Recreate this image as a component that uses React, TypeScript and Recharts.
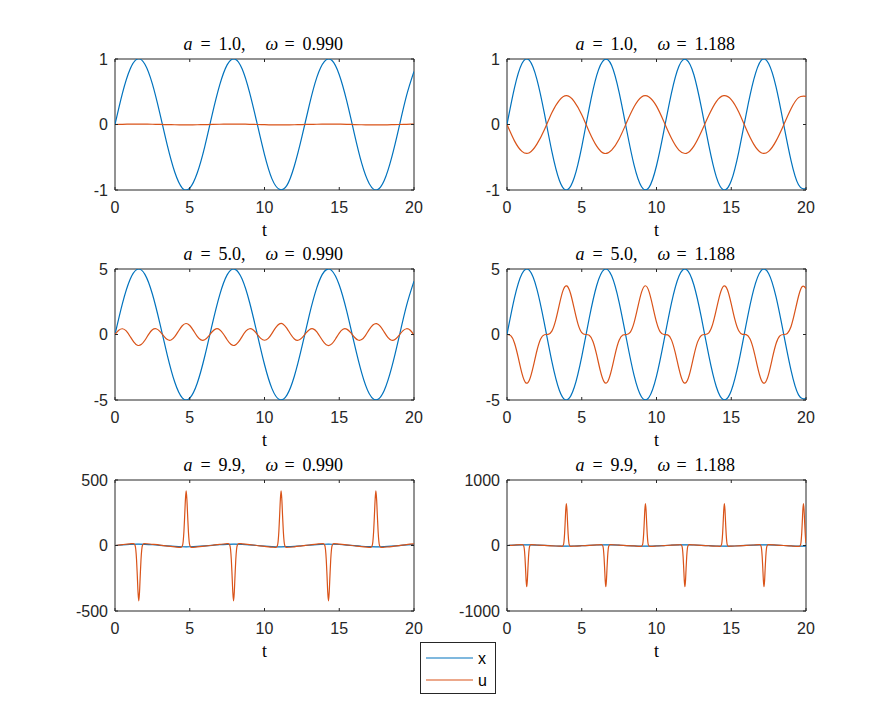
import React from 'react'
import { LineChart, Line, XAxis, YAxis, ReferenceArea } from 'recharts'

const BLUE = '#0072BD'
const ORANGE = '#D95319'
const AXIS = '#262626'

// time grids
const T_HALF = [0,0.5,1,1.5,2,2.5,3,3.5,4,4.5,5,5.5,6,6.5,7,7.5,8,8.5,9,9.5,10,10.5,11,11.5,12,12.5,13,13.5,14,14.5,15,15.5,16,16.5,17,17.5,18,18.5,19,19.5,20]
const T_QUARTER = [0,0.25,0.5,0.75,1,1.25,1.5,1.75,2,2.25,2.5,2.75,3,3.25,3.5,3.75,4,4.25,4.5,4.75,5,5.25,5.5,5.75,6,6.25,6.5,6.75,7,7.25,7.5,7.75,8,8.25,8.5,8.75,9,9.25,9.5,9.75,10,10.25,10.5,10.75,11,11.25,11.5,11.75,12,12.25,12.5,12.75,13,13.25,13.5,13.75,14,14.25,14.5,14.75,15,15.25,15.5,15.75,16,16.25,16.5,16.75,17,17.25,17.5,17.75,18,18.25,18.5,18.75,19,19.25,19.5,19.75,20]

// a = 1.0, w = 0.990
const X_A1_W099 = [0,0.48,0.84,1.0,0.92,0.62,0.17,-0.32,-0.73,-0.97,-0.97,-0.74,-0.34,0.15,0.6,0.91,1.0,0.85,0.49,0.02,-0.46,-0.83,-0.99,-0.93,-0.63,-0.19,0.3,0.72,0.96,0.98,0.76,0.36,-0.13,-0.59,-0.9,-1.0,-0.86,-0.51,-0.04,0.44,0.81]
const U_A1_W099 = [0,0.003,0.005,0.006,0.006,0.004,0.001,-0.002,-0.004,-0.006,-0.006,-0.004,-0.002,0.001,0.004,0.005,0.006,0.005,0.003,0,-0.003,-0.005,-0.006,-0.006,-0.004,-0.001,0.002,0.004,0.006,0.006,0.005,0.002,-0.001,-0.004,-0.005,-0.006,-0.005,-0.003,0,0.003,0.005]

// a = 1.0, w = 1.188
const X_A1_W1188 = [0,0.56,0.93,0.98,0.69,0.17,-0.41,-0.85,-1.0,-0.81,-0.34,0.25,0.75,0.99,0.9,0.49,-0.08,-0.62,-0.95,-0.96,-0.63,-0.09,0.48,0.89,0.99,0.76,0.26,-0.32,-0.8,-1.0,-0.86,-0.42,0.16,0.68,0.98,0.93,0.57,0.01,-0.55,-0.92,-0.98]
const U_A1_W1188 = [0,-0.25,-0.41,-0.43,-0.3,-0.08,0.18,0.37,0.44,0.35,0.15,-0.11,-0.33,-0.44,-0.39,-0.22,0.03,0.27,0.42,0.42,0.28,0.04,-0.21,-0.39,-0.44,-0.33,-0.11,0.14,0.35,0.44,0.38,0.19,-0.07,-0.3,-0.43,-0.41,-0.25,-0.01,0.24,0.41,0.43]

// a = 5.0, w = 0.990
const X_A5_W099 = [0,2.38,4.18,4.98,4.59,3.09,0.85,-1.59,-3.65,-4.84,-4.86,-3.72,-1.68,0.76,3.01,4.55,4.99,4.23,2.46,0.1,-2.29,-4.13,-4.97,-4.63,-3.17,-0.95,1.5,3.58,4.81,4.88,3.78,1.78,-0.66,-2.93,-4.51,-4.99,-4.29,-2.55,-0.2,2.2,4.07]
const U_A5_W099 = [
  0,0.32,0.44,0.27,-0.13,-0.56,-0.82,-0.77,-0.44,0.01,
  0.36,0.44,0.24,-0.11,-0.39,-0.42,-0.17,0.27,0.67,0.84,
  0.69,0.3,-0.14,-0.41,-0.4,-0.14,0.21,0.43,0.37,0.04,
  -0.4,-0.75,-0.83,-0.59,-0.16,0.25,0.44,0.34,0.03,-0.3,
  -0.44,-0.3,0.09,0.53,0.81,0.79,0.47,0.02,-0.34,-0.44,
  -0.26,0.08,0.37,0.43,0.2,-0.23,-0.64,-0.84,-0.72,-0.34,
  0.11,0.4,0.41,0.16,-0.19,-0.42,-0.39,-0.08,0.37,0.73,
  0.83,0.62,0.2,-0.22,-0.44,-0.36,-0.06,0.28,0.44,0.32,
  -0.05,
]

// a = 5.0, w = 1.188
const X_A5_W1188 = [0,2.8,4.64,4.89,3.47,0.85,-2.05,-4.25,-5.0,-4.03,-1.68,1.24,3.74,4.96,4.48,2.46,-0.4,-3.12,-4.77,-4.79,-3.17,-0.46,2.4,4.45,4.97,3.78,1.3,-1.62,-3.99,-4.99,-4.29,-2.11,0.79,3.42,4.88,4.66,2.85,0.07,-2.74,-4.61,-4.9]
const U_A5_W1188 = [
  0,-0.09,-0.65,-1.75,-2.97,-3.68,-3.48,-2.48,-1.24,-0.34,
  -0.02,0.01,0.26,1.06,2.28,3.37,3.71,3.13,1.95,0.79,
  0.14,0,-0.06,-0.53,-1.56,-2.8,-3.62,-3.57,-2.67,-1.42,
  -0.44,-0.04,0,0.18,0.9,2.09,3.23,3.72,3.27,2.15,
  0.95,0.2,0,-0.03,-0.41,-1.37,-2.61,-3.55,-3.64,-2.85,
  -1.61,-0.56,-0.07,0,0.13,0.75,1.89,3.08,3.7,3.4,
  2.34,1.11,0.28,0.01,-0.01,-0.32,-1.19,-2.43,-3.45,-3.69,
  -3.02,-1.81,-0.69,-0.11,0,0.08,0.61,1.7,2.92,3.66,
  3.51,
]

// a = 9.9, w = 0.990
const X_A99_W099 = [0,4.7,8.28,9.86,9.08,6.12,1.69,-3.15,-7.23,-9.58,-9.62,-7.36,-3.33,1.5,5.97,9.0,9.88,8.38,4.87,0.2,-4.53,-8.17,-9.84,-9.16,-6.27,-1.88,2.96,7.09,9.52,9.67,7.49,3.52,-1.3,-5.81,-8.92,-9.89,-8.49,-5.05,-0.39,4.35,8.06]
const U_A99_W099: number[][] = [
  [0,0],[0.5,7],[1.0,13],[1.24,15],[1.34,2],[1.39,-31],[1.44,-107],[1.49,-226],[1.54,-355],[1.59,-422],
  [1.64,-355],[1.69,-226],[1.74,-107],[1.79,-31],[1.84,2],[1.94,15],[2.5,9],[3.0,3],[3.5,-5],[4.0,-11],
  [4.41,-15],[4.51,-2],[4.56,31],[4.61,107],[4.66,225],[4.71,350],[4.76,418],[4.81,350],[4.86,225],[4.91,107],
  [4.96,31],[5.01,-2],[5.11,-15],[5.5,-11],[6.0,-5],[6.5,2],[7.0,9],[7.5,14],[7.58,15],[7.68,2],
  [7.73,-31],[7.78,-107],[7.83,-226],[7.88,-355],[7.93,-422],[7.98,-355],[8.03,-226],[8.08,-107],[8.13,-31],[8.18,2],
  [8.28,15],[8.5,13],[9.0,7],[9.5,0],[10.0,-7],[10.5,-12],[10.76,-15],[10.86,-2],[10.91,31],[10.96,107],
  [11.01,225],[11.06,350],[11.11,418],[11.16,350],[11.21,225],[11.26,107],[11.31,31],[11.36,-2],[11.46,-15],[12.0,-10],
  [12.5,-3],[13.0,4],[13.5,11],[13.93,15],[14.03,2],[14.08,-31],[14.13,-107],[14.18,-226],[14.23,-355],[14.28,-422],
  [14.33,-355],[14.38,-226],[14.43,-107],[14.48,-31],[14.53,2],[14.63,15],[15.0,11],[15.5,5],[16.0,-2],[16.5,-9],
  [17.0,-14],[17.1,-15],[17.2,-2],[17.25,31],[17.3,107],[17.35,225],[17.4,350],[17.45,418],[17.5,350],[17.55,225],
  [17.6,107],[17.65,31],[17.7,-2],[17.8,-15],[18.0,-13],[18.5,-8],[19.0,-1],[19.5,7],[20.0,12],
]

// a = 9.9, w = 1.188
const X_A99_W1188 = [0,5.54,9.18,9.68,6.86,1.69,-4.06,-8.42,-9.89,-7.98,-3.33,2.46,7.4,9.81,8.86,4.87,-0.78,-6.17,-9.45,-9.49,-6.27,-0.91,4.76,8.8,9.83,7.49,2.58,-3.21,-7.9,-9.89,-8.49,-4.18,1.56,6.77,9.65,9.23,5.65,0.13,-5.43,-9.13,-9.71]
const U_A99_W1188: number[][] = [
  [0,0],[0.5,7],[1.04,12],[1.12,-7],[1.16,-57],[1.2,-171],[1.24,-347],[1.28,-536],[1.32,-630],[1.36,-536],
  [1.4,-347],[1.44,-171],[1.48,-57],[1.52,-7],[1.6,12],[2.0,8],[2.5,2],[3.0,-5],[3.5,-10],[3.69,-12],
  [3.77,7],[3.81,58],[3.85,174],[3.89,353],[3.93,545],[3.97,640],[4.01,545],[4.05,353],[4.09,174],[4.13,58],
  [4.17,7],[4.25,-12],[4.5,-10],[5.0,-4],[5.5,3],[6.0,9],[6.33,12],[6.41,-7],[6.45,-57],[6.49,-171],
  [6.53,-347],[6.57,-536],[6.61,-630],[6.65,-536],[6.69,-347],[6.73,-171],[6.77,-57],[6.81,-7],[6.89,12],[7.5,6],
  [8.0,-1],[8.5,-7],[8.98,-12],[9.06,7],[9.1,58],[9.14,174],[9.18,353],[9.22,545],[9.26,640],[9.3,545],
  [9.34,353],[9.38,174],[9.42,58],[9.46,7],[9.54,-12],[10.0,-8],[10.5,-1],[11.0,6],[11.5,11],[11.62,12],
  [11.7,-7],[11.74,-57],[11.78,-171],[11.82,-347],[11.86,-536],[11.9,-630],[11.94,-536],[11.98,-347],[12.02,-171],[12.06,-57],
  [12.1,-7],[12.18,12],[12.5,9],[13.0,3],[13.5,-4],[14.0,-10],[14.26,-12],[14.34,7],[14.38,58],[14.42,174],
  [14.46,353],[14.5,545],[14.54,640],[14.58,545],[14.62,353],[14.66,174],[14.7,58],[14.74,7],[14.82,-12],[15.0,-10],
  [15.5,-5],[16.0,2],[16.5,8],[16.91,12],[16.99,-7],[17.03,-57],[17.07,-171],[17.11,-347],[17.15,-536],[17.19,-630],
  [17.23,-536],[17.27,-347],[17.31,-171],[17.35,-57],[17.39,-7],[17.47,12],[18.0,7],[18.5,0],[19.0,-7],[19.55,-12],
  [19.63,7],[19.67,58],[19.71,174],[19.75,353],[19.79,545],[19.83,640],[19.87,545],[19.91,353],[19.95,174],[19.99,58],
  [20.0,40],
]

const X_TICKS = [0, 5, 10, 15, 20]
const Y_TICKS_1 = [-1, 0, 1]
const Y_TICKS_5 = [-5, 0, 5]
const Y_TICKS_500 = [-500, 0, 500]
const Y_TICKS_1000 = [-1000, 0, 1000]

const A_LABELS = ['1.0', '1.0', '5.0', '5.0', '9.9', '9.9']
const W_LABELS = ['0.990', '1.188', '0.990', '1.188', '0.990', '1.188']
const LEGEND_LABELS = ['x', 'u']

type Pt = { t: number; v: number }
const zip = (ts: number[], vs: number[]): Pt[] => ts.map((t, i) => ({ t, v: vs[i] }))
const fromPairs = (pairs: number[][]): Pt[] => pairs.map(([t, v]) => ({ t, v }))

// plot geometry (px)
const PLOT_W = 299
const PLOT_H = 131
const PAD_L = 60
const PAD_R = 10
const PAD_T = 10
const PAD_B = 50
const TICK = 3
const COLS = [115, 507]
const ROWS = [59, 269, 480]
const TICK_FONT = 16

const SANS = "'Liberation Sans', Arial, Helvetica, sans-serif"
const SERIF = "'Liberation Serif', 'Times New Roman', serif"

const panels = [
  { col: 0, row: 0, yTicks: Y_TICKS_1, x: zip(T_HALF, X_A1_W099), u: zip(T_HALF, U_A1_W099), uCurve: 'natural' },
  { col: 1, row: 0, yTicks: Y_TICKS_1, x: zip(T_HALF, X_A1_W1188), u: zip(T_HALF, U_A1_W1188), uCurve: 'natural' },
  { col: 0, row: 1, yTicks: Y_TICKS_5, x: zip(T_HALF, X_A5_W099), u: zip(T_QUARTER, U_A5_W099), uCurve: 'natural' },
  { col: 1, row: 1, yTicks: Y_TICKS_5, x: zip(T_HALF, X_A5_W1188), u: zip(T_QUARTER, U_A5_W1188), uCurve: 'natural' },
  { col: 0, row: 2, yTicks: Y_TICKS_500, x: zip(T_HALF, X_A99_W099), u: fromPairs(U_A99_W099), uCurve: 'monotone' },
  { col: 1, row: 2, yTicks: Y_TICKS_1000, x: zip(T_HALF, X_A99_W1188), u: fromPairs(U_A99_W1188), uCurve: 'monotone' },
]

function XTick(props: any) {
  const { x, payload } = props
  const bottom = PAD_T + PLOT_H
  return (
    <g>
      <line x1={x} x2={x} y1={bottom} y2={bottom - TICK} stroke={AXIS} strokeWidth={1} />
      <line x1={x} x2={x} y1={PAD_T} y2={PAD_T + TICK} stroke={AXIS} strokeWidth={1} />
      <text x={x} y={bottom + 23} textAnchor="middle" fontFamily={SANS} fontSize={TICK_FONT} fill={AXIS}>
        {String(payload.value)}
      </text>
    </g>
  )
}

function YTick(props: any) {
  const { y, payload } = props
  return (
    <g>
      <line x1={PAD_L} x2={PAD_L + TICK} y1={y} y2={y} stroke={AXIS} strokeWidth={1} />
      <line x1={PAD_L + PLOT_W} x2={PAD_L + PLOT_W - TICK} y1={y} y2={y} stroke={AXIS} strokeWidth={1} />
      <text x={PAD_L - 7} y={y + 5.7} textAnchor="end" fontFamily={SANS} fontSize={TICK_FONT} fill={AXIS}>
        {String(payload.value)}
      </text>
    </g>
  )
}

function Panel({ p }: { p: (typeof panels)[number] }) {
  const left = COLS[p.col]
  const top = ROWS[p.row]
  const yMin = p.yTicks[0]
  const yMax = p.yTicks[p.yTicks.length - 1]
  return (
    <div style={{ position: 'absolute', left: left - PAD_L, top: top - PAD_T }}>
      <LineChart
        width={PAD_L + PLOT_W + PAD_R}
        height={PAD_T + PLOT_H + PAD_B}
        margin={{ top: PAD_T, right: PAD_R, left: 0, bottom: 0 }}
      >
        <XAxis
          type="number"
          dataKey="t"
          domain={[0, 20]}
          ticks={X_TICKS}
          interval={0}
          axisLine={false}
          tickLine={false}
          tick={XTick}
          height={PAD_B}
          allowDataOverflow
        />
        <YAxis
          type="number"
          domain={[yMin, yMax]}
          ticks={p.yTicks}
          interval={0}
          axisLine={false}
          tickLine={false}
          tick={YTick}
          width={PAD_L}
          allowDataOverflow
        />
        <Line
          data={p.x}
          dataKey="v"
          type="natural"
          stroke={BLUE}
          strokeWidth={1.2}
          dot={false}
          activeDot={false}
          isAnimationActive={false}
        />
        <Line
          data={p.u}
          dataKey="v"
          type={p.uCurve as any}
          stroke={ORANGE}
          strokeWidth={1.2}
          dot={false}
          activeDot={false}
          isAnimationActive={false}
        />
        <ReferenceArea x1={0} x2={20} y1={yMin} y2={yMax} fill="none" stroke={AXIS} strokeWidth={1} />
      </LineChart>
    </div>
  )
}

// title laid out like TeX math: a = 1.0, \quad \omega = 0.990
function Title({ cx, y, a, w }: { cx: number; y: number; a: string; w: string }) {
  const x0 = cx - 81
  return (
    <text y={y} fontFamily={SERIF} fontSize={18} fill="#000">
      <tspan x={x0} fontStyle="italic">a</tspan>
      <tspan x={x0 + 17}>=</tspan>
      <tspan x={x0 + 35}>{a},</tspan>
      <tspan x={x0 + 82} fontStyle="italic">ω</tspan>
      <tspan x={x0 + 101}>=</tspan>
      <tspan x={x0 + 119}>{w}</tspan>
    </text>
  )
}

export default function App() {
  return (
    <div style={{ position: 'absolute', left: 0, top: 0, width: 892, height: 705, background: '#fff' }}>
      {panels.map((p, i) => (
        <Panel key={i} p={p} />
      ))}
      <svg width={892} height={705} style={{ position: 'absolute', left: 0, top: 0, pointerEvents: 'none' }}>
        {panels.map((p, i) => {
          const cx = COLS[p.col] + PLOT_W / 2
          const top = ROWS[p.row]
          return (
            <g key={i}>
              <Title cx={cx} y={top - 9.5} a={A_LABELS[i]} w={W_LABELS[i]} />
              <text x={cx} y={top + PLOT_H + 46} textAnchor="middle" fontFamily={SERIF} fontSize={18} fill="#000">
                t
              </text>
            </g>
          )
        })}
        <g>
          <rect x={420.5} y={642.5} width={75} height={51} fill="#fff" stroke={AXIS} strokeWidth={1} />
          <line x1={426} x2={473} y1={658} y2={658} stroke={BLUE} strokeWidth={1.2} />
          <line x1={426} x2={473} y1={680} y2={680} stroke={ORANGE} strokeWidth={1.2} />
          <text x={478} y={664} fontFamily={SANS} fontSize={TICK_FONT} fill="#000">{LEGEND_LABELS[0]}</text>
          <text x={478} y={686} fontFamily={SANS} fontSize={TICK_FONT} fill="#000">{LEGEND_LABELS[1]}</text>
        </g>
      </svg>
    </div>
  )
}
